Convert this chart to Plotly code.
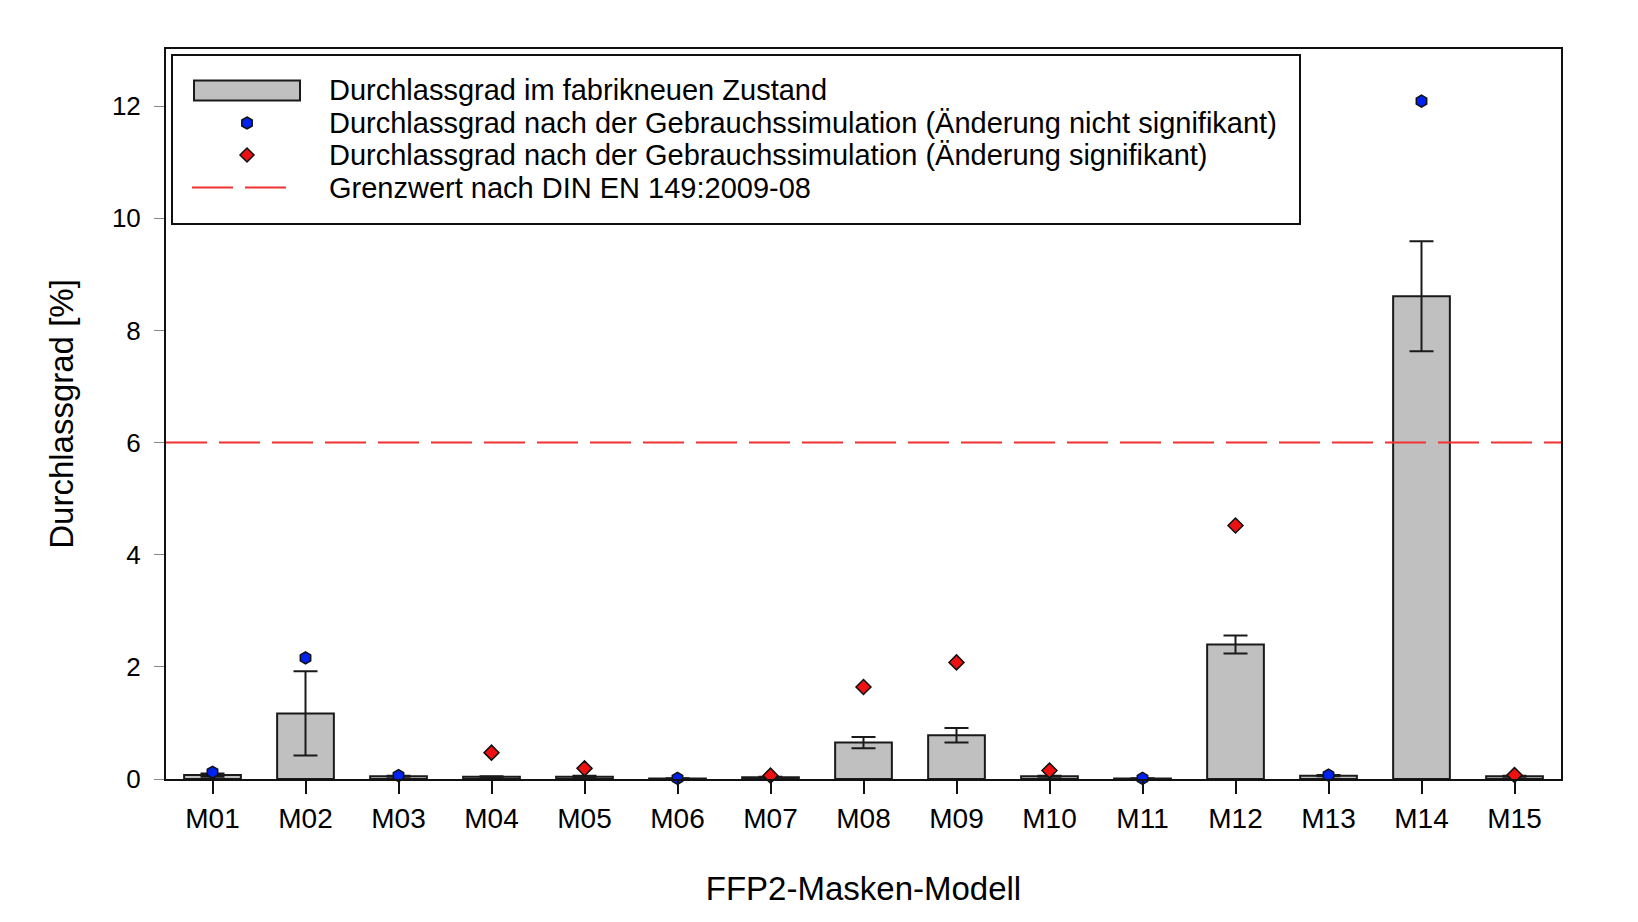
import plotly.graph_objects as go

# ---------------- data ----------------
models = ["M01", "M02", "M03", "M04", "M05", "M06", "M07", "M08",
          "M09", "M10", "M11", "M12", "M13", "M14", "M15"]
neu = [0.07, 1.17, 0.05, 0.04, 0.04, 0.01, 0.03, 0.65,
       0.78, 0.05, 0.01, 2.40, 0.06, 8.61, 0.05]
neu_err = [0.03, 0.75, 0.01, 0.01, 0.02, 0.005, 0.01, 0.10,
           0.13, 0.01, 0.005, 0.16, 0.01, 0.98, 0.01]

ns_models = ["M01", "M02", "M03", "M06", "M11", "M13", "M14"]
ns_values = [0.12, 2.16, 0.06, 0.01, 0.01, 0.07, 12.09]

sig_models = ["M04", "M05", "M07", "M08", "M09", "M10", "M12", "M15"]
sig_values = [0.47, 0.19, 0.06, 1.64, 2.08, 0.15, 4.52, 0.07]

grenzwert = 6
y_ticks = [0, 2, 4, 6, 8, 10, 12]

legend_labels = [
    "Durchlassgrad im fabrikneuen Zustand",
    "Durchlassgrad nach der Gebrauchssimulation (Änderung nicht signifikant)",
    "Durchlassgrad nach der Gebrauchssimulation (Änderung signifikant)",
    "Grenzwert nach DIN EN 149:2009-08",
]

# ---------------- style / layout ----------------
FONT = "Liberation Sans, Arial, sans-serif"
W, H = 1638, 922
L, R, T, B = 158, 85, 41, 151
PW, PH = W - L - R, H - T - B
BAR_COLOR = "#c0c0c0"
EDGE = "#1a1a1a"
BLUE = "#0022ee"
RED = "#ee1111"
LINE_RED = "#ee3333"
DASH = "41px,12px"


def px_x(px):
    return (px - L) / PW


def px_y(py):
    return (H - B - py) / PH


fig = go.Figure()

fig.add_trace(go.Bar(
    x=models, y=neu, width=0.61,
    marker=dict(color=BAR_COLOR, line=dict(color=EDGE, width=2)),
    error_y=dict(type="data", array=neu_err, visible=True,
                 color=EDGE, thickness=2, width=12),
    name=legend_labels[0], showlegend=False,
))

fig.add_trace(go.Scatter(
    x=ns_models, y=ns_values, mode="markers",
    marker=dict(symbol="hexagon", size=12, color=BLUE,
                line=dict(color="#111111", width=1.5)),
    cliponaxis=False, name=legend_labels[1], showlegend=False,
))

fig.add_trace(go.Scatter(
    x=sig_models, y=sig_values, mode="markers",
    marker=dict(symbol="diamond", size=11.5, color=RED,
                line=dict(color="#111111", width=1.5)),
    cliponaxis=False, name=legend_labels[2], showlegend=False,
))

shapes = []
# limit line
shapes.append(dict(type="line", xref="paper", x0=0, x1=1, yref="y",
                   y0=grenzwert, y1=grenzwert, layer="above",
                   line=dict(color=LINE_RED, width=2, dash=DASH)))

# ---------- custom legend (box, keys, labels) ----------
box_l, box_r, box_t, box_b = 164, 1292, 47, 216
row_y = [82.5, 115, 147, 179.5]
key_cx = 239
text_x = 319

shapes.append(dict(type="rect", xref="paper", yref="paper",
                   x0=px_x(box_l), x1=px_x(box_r),
                   y0=px_y(box_b), y1=px_y(box_t),
                   fillcolor="white", line=dict(color="#111111", width=2),
                   layer="above"))
shapes.append(dict(type="rect", xref="paper", yref="paper",
                   x0=px_x(186), x1=px_x(292),
                   y0=px_y(row_y[0] + 10), y1=px_y(row_y[0] - 10),
                   fillcolor=BAR_COLOR, line=dict(color=EDGE, width=2),
                   layer="above"))
hexagon = "M0,6 L5.2,3 L5.2,-3 L0,-6 L-5.2,-3 L-5.2,3 Z"
diamond = "M0,7 L7,0 L0,-7 L-7,0 Z"
shapes.append(dict(type="path", xref="paper", yref="paper",
                   xsizemode="pixel", ysizemode="pixel",
                   xanchor=px_x(key_cx), yanchor=px_y(row_y[1]),
                   path=hexagon, fillcolor=BLUE,
                   line=dict(color="#111111", width=1.5), layer="above"))
shapes.append(dict(type="path", xref="paper", yref="paper",
                   xsizemode="pixel", ysizemode="pixel",
                   xanchor=px_x(key_cx), yanchor=px_y(row_y[2]),
                   path=diamond, fillcolor=RED,
                   line=dict(color="#111111", width=1.5), layer="above"))
shapes.append(dict(type="line", xref="paper", yref="paper",
                   x0=px_x(184), x1=px_x(278),
                   y0=px_y(row_y[3]), y1=px_y(row_y[3]),
                   line=dict(color=LINE_RED, width=2, dash=DASH),
                   layer="above"))

annotations = []
for lbl, ry in zip(legend_labels, row_y):
    annotations.append(dict(text=lbl, xref="paper", yref="paper",
                            x=px_x(text_x), y=px_y(ry),
                            xanchor="left", yanchor="middle",
                            showarrow=False,
                            font=dict(family=FONT, size=29, color="black")))

fig.update_layout(
    width=W, height=H,
    margin=dict(l=L, r=R, t=T, b=B),
    paper_bgcolor="white", plot_bgcolor="white",
    font=dict(family=FONT, size=28, color="black"),
    showlegend=False,
    shapes=shapes,
    annotations=annotations,
)

fig.update_xaxes(
    type="category", range=[-0.5, 14.5],
    showline=True, linecolor="#111111", linewidth=2, mirror=True,
    ticks="outside", ticklen=13, tickwidth=1.5, tickcolor="#111111",
    tickfont=dict(size=28), showgrid=False,
    title=dict(text="FFP2-Masken-Modell", font=dict(size=33), standoff=44),
)
fig.update_yaxes(
    range=[0, 13.02], tickvals=y_ticks,
    showline=True, linecolor="#111111", linewidth=2, mirror=True,
    ticks="outside", ticklen=10, tickwidth=1, tickcolor="#888888",
    ticklabelstandoff=8,
    tickfont=dict(size=26), showgrid=False, zeroline=False,
    title=dict(text="Durchlassgrad [%]", font=dict(size=33), standoff=28),
)

fig.write_html("out.html")
